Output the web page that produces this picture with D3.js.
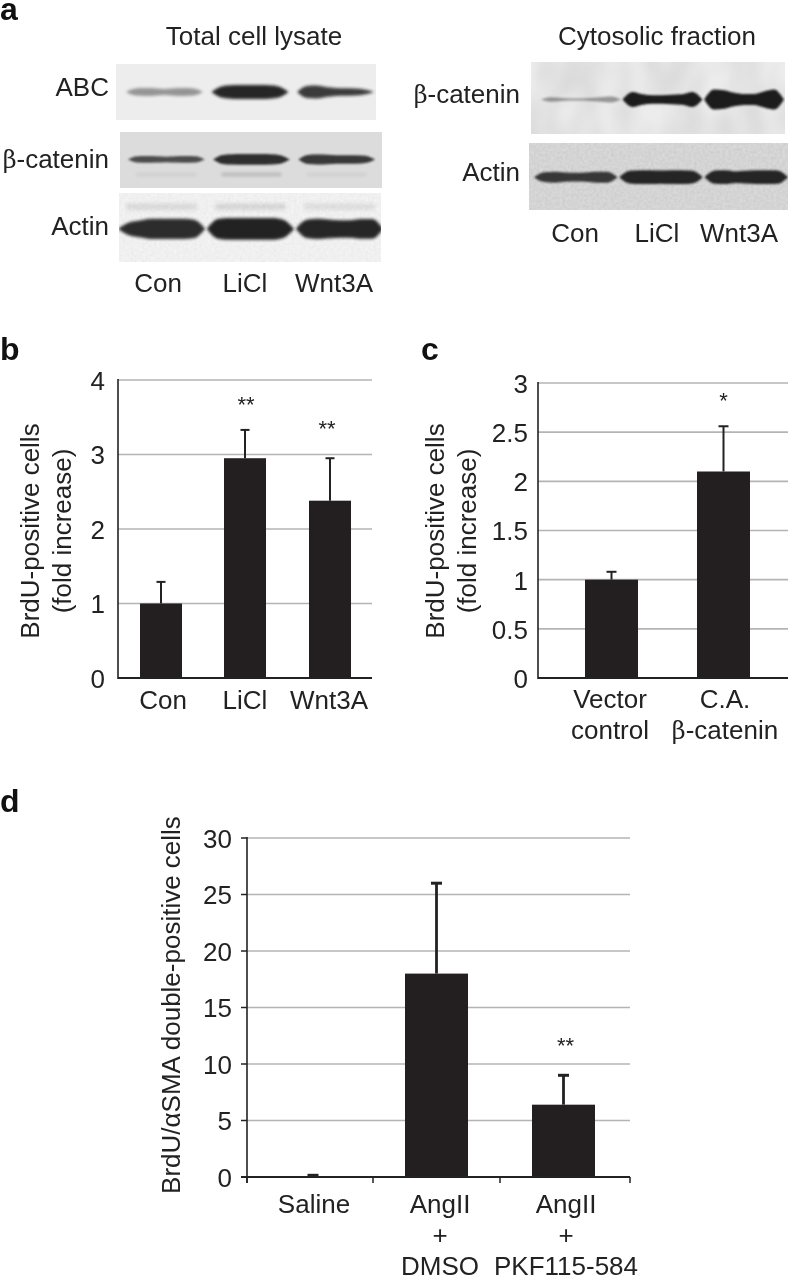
<!DOCTYPE html>
<html><head><meta charset="utf-8">
<script src="https://cdn.jsdelivr.net/npm/d3@7"></script>
<style>html,body{margin:0;padding:0;background:#fff}svg{display:block;filter:blur(.35px)}
text{font-family:"Liberation Sans",Arial,sans-serif;fill:#222;font-size:26px}
.sym{font-family:"DejaVu Serif","Liberation Serif",serif;font-size:24px}
.letter{font-weight:700;font-size:32px;fill:#111}</style></head><body>
<script>
// Panel b
const bCategories=["Con","LiCl","Wnt3A"];
const bValues=[1,2.95,2.38];
const bErrors=[1.29,3.33,2.95];
const bStars=["","**","**"];
const bTicks=[0,1,2,3,4];
// Panel c
const cCategories=[["Vector","control"],["C.A.","β-catenin"]];
const cValues=[1,2.1];
const cErrors=[1.08,2.56];
const cStars=["","*"];
const cTicks=[0,0.5,1,1.5,2,2.5,3];
// Panel d
const dCategories=[["Saline"],["AngII","+","DMSO"],["AngII","+","PKF115-584"]];
const dValues=[0,18,6.4];
const dErrors=[0.15,26,9];
const dStars=["","","**"];
const dTicks=[0,5,10,15,20,25,30];
// Panel a: band intensity and thickness profiles per lane
const laneNames=["Con","LiCl","Wnt3A"];
const abcProfile=[[.7,.8,.75,.6,.75,.8,.7],[1.1,1.35,1.4,1.4,1.4,1.35,1.1],[1.2,1.3,1,.8,.75,.7,.5]];
const abcDark=[.42,.95,.85];
const betaProfile=[[.7,.75,.7,.6,.7,.75,.7],[1,1.15,1.2,1.2,1.2,1.15,.95],[1,1.1,1.05,.95,.95,.95,.8]];
const betaDark=[.75,.9,.85];
const betaFaint=[.06,.16,.05];
const actinProfile=[[.9,1.2,1.45,1.45,1.45,1.45,1.3],[1.4,1.55,1.55,1.55,1.55,1.55,1.3],[1.3,1.45,1.35,1.25,1.25,1.4,1.4]];
const actinDark=[.92,.97,.95];
const actinUpper=[.12,.14,.1];
const cytoBetaProfile=[[.45,.3,.2,.2,.3,.45,.6],[1.5,1.05,.85,.85,.95,1.05,1.5],[2,1.85,1.35,1.1,1.1,1.6,2]];
const cytoBetaDark=[.4,1,1];
const cytoActinProfile=[[.9,1,.85,.8,.85,1,1],[1.15,1.25,1.25,1.2,1.25,1.25,1.15],[1.2,1.25,1.05,1.15,1.25,1.25,1.2]];
const cytoActinDark=[.85,.95,.95];

const svg=d3.select("body").append("svg").attr("width",788).attr("height",1281);
const defs=svg.append("defs");
[.9,1.5,2.2,4].forEach((s,i)=>{defs.append("filter").attr("id","b"+i).attr("x","-20%").attr("y","-150%").attr("width","140%").attr("height","400%")
  .append("feGaussianBlur").attr("stdDeviation",s);});
function noise(id,freq,octaves,seed,alpha,offset){
  const f=defs.append("filter").attr("id",id).attr("x",0).attr("y",0).attr("width","100%").attr("height","100%");
  f.append("feTurbulence").attr("type","fractalNoise").attr("baseFrequency",freq).attr("numOctaves",octaves).attr("seed",seed);
  f.append("feColorMatrix").attr("values",`0 0 0 0 0.2 0 0 0 0 0.2 0 0 0 0 0.2 0 0 0 ${alpha} ${offset}`);
}
noise("grain",.35,2,4,.55,-.12);
noise("mottle",".03 .02",2,7,.6,-.18);

function label(g,x,y,t,anchor){
  const el=g.append("text").attr("x",x).attr("y",y).attr("text-anchor",anchor||"middle");
  if(t.startsWith("β")){el.append("tspan").attr("class","sym").text("β");el.append("tspan").text(t.slice(1));}
  else el.text(t);
  return el;
}
let blotCount=0;
function blot(o){
  const id="clip"+(blotCount++);
  defs.append("clipPath").attr("id",id).append("rect").attr("x",o.x0).attr("y",o.y0).attr("width",o.x1-o.x0).attr("height",o.y1-o.y0);
  const g=svg.append("g").attr("clip-path",`url(#${id})`);
  g.append("rect").attr("x",o.x0).attr("y",o.y0).attr("width",o.x1-o.x0).attr("height",o.y1-o.y0).attr("fill",o.bg);
  if(o.texture) g.append("rect").attr("x",o.x0).attr("y",o.y0).attr("width",o.x1-o.x0).attr("height",o.y1-o.y0).attr("filter",`url(#${o.texture})`).attr("opacity",o.texOp||.5);
  const xs=d3.scaleBand().domain(laneNames).range(o.lanes).paddingInner(o.pad||.1);
  const ys=d3.scaleLinear().domain([0,1]).range([o.y0,o.y1]);
  const u=d3.scaleLinear().domain([0,8]);
  o.layers.forEach(l=>{
    laneNames.forEach((n,i)=>{
      if(l.profile){
        u.range([xs(n),xs(n)+xs.bandwidth()]);
        const mid=ys(l.at);
        const pts=[0,...l.profile[i],0];
        const area=d3.area().x((d,j)=>u(j)).y0(d=>mid-d*l.h).y1(d=>mid+d*l.h).curve(d3.curveMonotoneX);
        g.append("path").attr("d",area(pts)).attr("fill","#1a1a1a").attr("opacity",l.dark[i]).attr("filter","url(#b"+l.blur+")");
      } else {
        g.append("rect").attr("x",xs(n)+8).attr("width",xs.bandwidth()-16).attr("y",ys(l.at)-l.h).attr("height",2*l.h).attr("rx",l.h)
         .attr("fill","#222").attr("opacity",l.dark[i]).attr("filter","url(#b"+l.blur+")");
      }
    });
  });
}
blot({x0:116,x1:376,y0:64,y1:120,bg:"#ecedec",lanes:[126,374],layers:[{at:.5,h:5,profile:abcProfile,dark:abcDark,blur:1}]});
blot({x0:120,x1:382,y0:132,y1:188,bg:"#dcdcdc",lanes:[128,375],layers:[{at:.49,h:4.5,profile:betaProfile,dark:betaDark,blur:0},{at:.76,h:2,dark:betaFaint,blur:1}]});
blot({x0:119,x1:381,y0:193,y1:262,bg:"#f4f4f4",texture:"grain",texOp:.22,lanes:[118,383],pad:.02,layers:[{at:.52,h:7,profile:actinProfile,dark:actinDark,blur:1},{at:.2,h:3,dark:actinUpper,blur:2}]});
blot({x0:531,x1:785,y0:62,y1:134,bg:"#ececec",texture:"mottle",lanes:[541,784],pad:.02,layers:[{at:.52,h:5,profile:cytoBetaProfile,dark:cytoBetaDark,blur:0}]});
blot({x0:529,x1:788,y0:143,y1:210,bg:"#dadada",texture:"grain",texOp:.4,lanes:[534,788],pad:.02,layers:[{at:.51,h:5.5,profile:cytoActinProfile,dark:cytoActinDark,blur:0}]});

const a=svg.append("g");
label(a,254,45,"Total cell lysate");
label(a,657,45,"Cytosolic fraction");
[["ABC",109,96],["β-catenin",109,168],["Actin",109,235],["β-catenin",520,103],["Actin",520,181]].forEach(r=>label(a,r[1],r[2],r[0],"end"));
laneNames.forEach((n,i)=>{label(a,[158,245,334][i],292,n);label(a,[575,657,739][i],242,n);});
[["a",0,20],["b",0,360],["c",421,360],["d",0,812]].forEach(r=>svg.append("text").attr("class","letter").attr("x",r[1]).attr("y",r[2]).text(r[0]));

function chart(o){
  const g=svg.append("g");
  const y=d3.scaleLinear().domain(o.domain).range([o.y0,o.yTop]);
  const n=o.values.length;
  const x=d3.scaleOrdinal().domain(d3.range(n)).range(o.centers);
  const axis=d3.axisLeft(y).tickValues(o.ticks).tickSize(0).tickPadding(o.pad).tickFormat(d=>String(d));
  const ga=g.append("g").attr("transform",`translate(${o.xAxis},0)`).call(axis);
  ga.select(".domain").remove();
  ga.selectAll("text").style("font-size","26px").attr("dy",".36em");
  g.append("g").selectAll("line").data(o.ticks.filter(d=>d>0)).join("line")
   .attr("x1",o.xAxis).attr("x2",o.xRight).attr("y1",d=>y(d)).attr("y2",d=>y(d)).attr("stroke","#b4b4b4").attr("stroke-width",1.6);
  g.append("g").selectAll("line").data(o.values).join("line")
   .attr("x1",(d,i)=>x(i)).attr("x2",(d,i)=>x(i)).attr("y1",d=>y(d)).attr("y2",(d,i)=>y(o.errors[i])).attr("stroke","#222").attr("stroke-width",o.stemW);
  g.append("g").selectAll("line").data(o.errors).join("line")
   .attr("x1",(d,i)=>x(i)-o.cap).attr("x2",(d,i)=>x(i)+o.cap).attr("y1",d=>y(d)).attr("y2",d=>y(d)).attr("stroke","#222").attr("stroke-width",o.capW);
  g.append("g").selectAll("rect").data(o.values).join("rect")
   .attr("x",(d,i)=>x(i)-o.barW/2).attr("width",o.barW).attr("y",d=>y(d)).attr("height",d=>o.y0-y(d))
   .attr("fill","#231f20");
  g.append("line").attr("x1",o.xAxis).attr("x2",o.xAxis).attr("y1",o.yTop-1).attr("y2",o.y0+(o.ticksOut?6:1)).attr("stroke","#222").attr("stroke-width",1.6);
  g.append("line").attr("x1",o.xAxis-(o.ticksOut?6:0)).attr("x2",o.xRight).attr("y1",o.y0).attr("y2",o.y0).attr("stroke","#222").attr("stroke-width",1.8);
  if(o.ticksOut){
    g.append("g").selectAll("line").data(o.ticks).join("line").attr("x1",o.xAxis-6).attr("x2",o.xAxis).attr("y1",d=>y(d)).attr("y2",d=>y(d)).attr("stroke","#222").attr("stroke-width",1.5);
    g.append("g").selectAll("line").data(o.xTickAt).join("line").attr("x1",d=>d).attr("x2",d=>d).attr("y1",o.y0).attr("y2",o.y0+6).attr("stroke","#222").attr("stroke-width",1.5);
  }
  o.stars.forEach((s,i)=>{ if(s) g.append("text").attr("x",x(i)+o.starDx[i]).attr("y",y(o.errors[i])-o.starGap[i]).attr("text-anchor","middle").style("font-size","22px").text(s); });
  o.cats.forEach((c,i)=>{ [].concat(c).forEach((t,j)=>label(g,o.labelX[i],o.labelY[j],t)); });
  o.yTitle.forEach((t,j)=>{
    g.append("text").attr("transform",`translate(${o.titleX[j]},${o.titleY}) rotate(-90)`).attr("text-anchor","middle").text(t);
  });
}
chart({domain:[0,4],y0:678,yTop:380,xAxis:118,xRight:372,centers:[161,245,330],barW:42,values:bValues,errors:bErrors,stars:bStars,ticks:bTicks,pad:13,stemW:2,cap:4.5,capW:2,
  starDx:[0,1,-3],starGap:[0,18,22],cats:bCategories,labelX:[163,245,329],labelY:[709],yTitle:["BrdU-positive cells","(fold increase)"],titleX:[39,71],titleY:531});
chart({domain:[0,3],y0:678,yTop:383,xAxis:538,xRight:788,centers:[611.5,723.5],barW:53,values:cValues,errors:cErrors,stars:cStars,ticks:cTicks,pad:10,stemW:2,cap:5,capW:2,
  starDx:[0,0],starGap:[0,18],cats:cCategories,labelX:[610,725],labelY:[708,739],yTitle:["BrdU-positive cells","(fold increase)"],titleX:[444,476],titleY:531});
chart({domain:[0,30],y0:1177,yTop:838,xAxis:247,xRight:630,centers:[313,436.5,563.5],barW:63,values:dValues,errors:dErrors,stars:dStars,ticks:dTicks,pad:15,stemW:2.8,cap:5.5,capW:3,ticksOut:true,xTickAt:[247,373,500,630],
  starDx:[0,0,2],starGap:[0,22,22],cats:dCategories,labelX:[314,440,566],labelY:[1213,1244,1275],yTitle:["BrdU/αSMA double-positive cells"],titleX:[180],titleY:1005});
</script></body></html>
